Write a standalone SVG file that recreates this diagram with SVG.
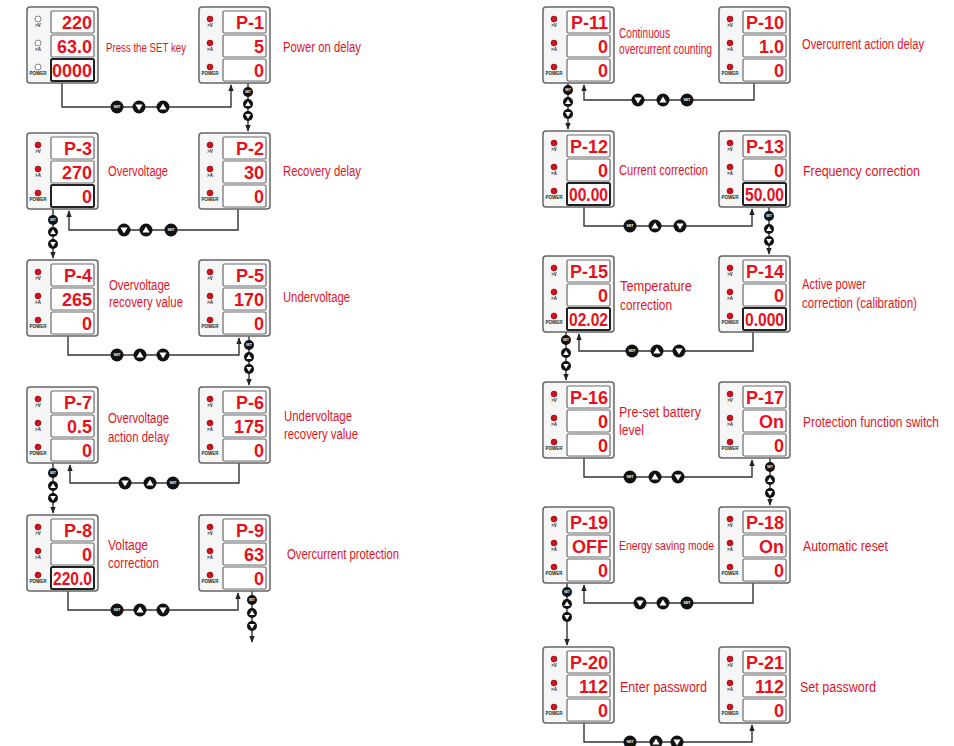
<svg xmlns="http://www.w3.org/2000/svg" xmlns:xlink="http://www.w3.org/1999/xlink" width="954" height="746" viewBox="0 0 954 746">
<style>
.frame{fill:#f6f6f6;stroke:#666;stroke-width:1.5}
.disp{fill:#fff;stroke:#6a6a6a;stroke-width:1.2}
.hi{fill:none;stroke:#222;stroke-width:2}
.led{fill:#d4101c;stroke:#7a0a0a;stroke-width:.6}
.ledoff{fill:#fff;stroke:#777;stroke-width:.9}
.ll{font-family:"Liberation Sans",Arial,sans-serif;font-weight:bold;font-size:4.5px;fill:#222;text-anchor:middle}
.val{font-family:"Liberation Sans",Arial,sans-serif;font-weight:bold;font-size:18px;fill:#e8101c;text-anchor:end}
.lbl{font-family:"Liberation Sans",Arial,sans-serif;font-size:15px;fill:#e3141f}
.sm{font-size:13px}
.wire{fill:none;stroke:#333;stroke-width:1.4}
.bk{fill:#111}
.wt{fill:#fff}
.st{font-family:"Liberation Sans",Arial,sans-serif;font-weight:bold;font-size:3.6px;fill:#fff;text-anchor:middle}
</style>
<defs>
<marker id="ah" viewBox="0 0 10 10" refX="9" refY="5" markerWidth="7" markerHeight="7" orient="auto" markerUnits="userSpaceOnUse"><path d="M0,1 L10,5 L0,9 z" fill="#222"/></marker>
<g id="shell">
<rect class="frame" x="0" y="0" width="71" height="76" rx="3"/>
<rect class="disp" x="24" y="4" width="43" height="22" rx="1.5"/>
<rect class="disp" x="24" y="28" width="43" height="22" rx="1.5"/>
<rect class="disp" x="24" y="52" width="43" height="22" rx="1.5"/>
<circle class="led" cx="11" cy="12" r="3"/>
<circle class="led" cx="11" cy="36" r="3"/>
<circle class="led" cx="11" cy="60" r="3"/>
<text class="ll" x="11" y="20">&gt;V</text>
<text class="ll" x="11" y="44">&gt;A</text>
<text class="ll" x="11" y="68">POWER</text>
</g>
<g id="shell0">
<rect class="frame" x="0" y="0" width="71" height="76" rx="3"/>
<rect class="disp" x="24" y="4" width="43" height="22" rx="1.5"/>
<rect class="disp" x="24" y="28" width="43" height="22" rx="1.5"/>
<rect class="disp" x="24" y="52" width="43" height="22" rx="1.5"/>
<circle class="ledoff" cx="11" cy="12" r="3"/>
<circle class="ledoff" cx="11" cy="36" r="3"/>
<circle class="ledoff" cx="11" cy="60" r="3"/>
<text class="ll" x="11" y="20">&gt;V</text>
<text class="ll" x="11" y="44">&gt;A</text>
<text class="ll" x="11" y="68">POWER</text>
</g>
<g id="bset"><circle class="bk" r="6.5"/><text class="st" y="1.3">SET</text></g>
<g id="bdn"><circle class="bk" r="6.5"/><path class="wt" d="M-3.6,-2.6 L3.6,-2.6 L0,3.6 z"/></g>
<g id="bup"><circle class="bk" r="6.5"/><path class="wt" d="M0,-3.6 L3.6,2.6 L-3.6,2.6 z"/></g>
<g id="vset"><circle class="bk" r="5"/><text class="st" y="1.1" style="font-size:3px">SET</text></g>
<g id="vup"><circle class="bk" r="5"/><path class="wt" d="M0,-2.8 L2.8,2 L-2.8,2 z"/></g>
<g id="vdn"><circle class="bk" r="5"/><path class="wt" d="M-2.8,-2 L2.8,-2 L0,2.8 z"/></g>
</defs>
<rect width="954" height="746" fill="#fff"/>

<g id="connectors">
<path class="wire" d="M62 83 V107 H231 V85" marker-end="url(#ah)"/>
<path class="wire" d="M248 83 V131" marker-end="url(#ah)"/>
<path class="wire" d="M238 209 V230 H69 V211" marker-end="url(#ah)"/>
<path class="wire" d="M53 209 V258" marker-end="url(#ah)"/>
<path class="wire" d="M68 336 V355 H239 V338" marker-end="url(#ah)"/>
<path class="wire" d="M249 336 V385" marker-end="url(#ah)"/>
<path class="wire" d="M239 463 V483 H70 V465" marker-end="url(#ah)"/>
<path class="wire" d="M53 463 V513" marker-end="url(#ah)"/>
<path class="wire" d="M68 591 V610 H238 V593" marker-end="url(#ah)"/>
<path class="wire" d="M252 591 V642" marker-end="url(#ah)"/>
<path class="wire" d="M754 83 V100 H584 V85" marker-end="url(#ah)"/>
<path class="wire" d="M568 83 V129" marker-end="url(#ah)"/>
<path class="wire" d="M584 207 V226 H752 V209" marker-end="url(#ah)"/>
<path class="wire" d="M769 207 V254" marker-end="url(#ah)"/>
<path class="wire" d="M753 332 V351 H579 V334" marker-end="url(#ah)"/>
<path class="wire" d="M566 332 V380" marker-end="url(#ah)"/>
<path class="wire" d="M584 458 V477 H752 V460" marker-end="url(#ah)"/>
<path class="wire" d="M770 458 V505" marker-end="url(#ah)"/>
<path class="wire" d="M753 583 V603 H584 V585" marker-end="url(#ah)"/>
<path class="wire" d="M567 583 V645" marker-end="url(#ah)"/>
<path class="wire" d="M584 723 V742 H752 V725" marker-end="url(#ah)"/>

<use href="#bset" x="117" y="107"/><use href="#bdn" x="139" y="107"/><use href="#bup" x="163" y="107"/>
<use href="#vset" x="248" y="92"/><use href="#vup" x="248" y="104"/><use href="#vdn" x="248" y="116"/>
<use href="#bdn" x="124" y="230"/><use href="#bup" x="146" y="230"/><use href="#bset" x="171" y="230"/>
<use href="#vset" x="53" y="220"/><use href="#vup" x="53" y="232"/><use href="#vdn" x="53" y="244"/>
<use href="#bset" x="117" y="355"/><use href="#bup" x="140" y="355"/><use href="#bdn" x="163" y="355"/>
<use href="#vset" x="249" y="345"/><use href="#vup" x="249" y="357"/><use href="#vdn" x="249" y="369"/>
<use href="#bdn" x="125" y="483"/><use href="#bup" x="150" y="483"/><use href="#bset" x="173" y="483"/>
<use href="#vset" x="53" y="473"/><use href="#vup" x="53" y="486"/><use href="#vdn" x="53" y="498"/>
<use href="#bset" x="117" y="610"/><use href="#bup" x="140" y="610"/><use href="#bdn" x="163" y="610"/>
<use href="#vset" x="252" y="600"/><use href="#vup" x="252" y="613"/><use href="#vdn" x="252" y="626"/>
<use href="#bdn" x="638" y="100"/><use href="#bup" x="663" y="100"/><use href="#bset" x="687" y="100"/>
<use href="#vset" x="568" y="90"/><use href="#vup" x="568" y="102"/><use href="#vdn" x="568" y="114"/>
<use href="#bset" x="630" y="226"/><use href="#bup" x="655" y="226"/><use href="#bdn" x="680" y="226"/>
<use href="#vset" x="769" y="216"/><use href="#vup" x="769" y="229"/><use href="#vdn" x="769" y="241"/>
<use href="#bset" x="632" y="351"/><use href="#bup" x="657" y="351"/><use href="#bdn" x="679" y="351"/>
<use href="#vset" x="566" y="340"/><use href="#vup" x="566" y="353"/><use href="#vdn" x="566" y="366"/>
<use href="#bset" x="630" y="477"/><use href="#bup" x="655" y="477"/><use href="#bdn" x="678" y="477"/>
<use href="#vset" x="770" y="467"/><use href="#vup" x="770" y="480"/><use href="#vdn" x="770" y="493"/>
<use href="#bdn" x="640" y="603"/><use href="#bup" x="663" y="603"/><use href="#bset" x="687" y="603"/>
<use href="#vset" x="567" y="592"/><use href="#vup" x="567" y="604"/><use href="#vdn" x="567" y="617"/>
<use href="#bset" x="630" y="742"/><use href="#bup" x="656" y="742"/><use href="#bdn" x="677" y="742"/>
</g>

<g id="n-home" transform="translate(27,7)"><use href="#shell0"/><rect class="hi" x="24" y="52" width="43" height="22" rx="1.5"/>
<text class="val" x="65" y="22">220</text><text class="val" x="65" y="46">63.0</text><text class="val" x="65" y="70">0000</text></g>
<g id="n-p1" transform="translate(199,7)"><use href="#shell"/>
<text class="val" x="65" y="22">P-1</text><text class="val" x="65" y="46">5</text><text class="val" x="65" y="70">0</text></g>
<g id="n-p3" transform="translate(27,133)"><use href="#shell"/><rect class="hi" x="24" y="52" width="43" height="22" rx="1.5"/>
<text class="val" x="65" y="22">P-3</text><text class="val" x="65" y="46">270</text><text class="val" x="65" y="70">0</text></g>
<g id="n-p2" transform="translate(199,133)"><use href="#shell"/>
<text class="val" x="65" y="22">P-2</text><text class="val" x="65" y="46">30</text><text class="val" x="65" y="70">0</text></g>
<g id="n-p4" transform="translate(27,260)"><use href="#shell"/>
<text class="val" x="65" y="22">P-4</text><text class="val" x="65" y="46">265</text><text class="val" x="65" y="70">0</text></g>
<g id="n-p5" transform="translate(199,260)"><use href="#shell"/>
<text class="val" x="65" y="22">P-5</text><text class="val" x="65" y="46">170</text><text class="val" x="65" y="70">0</text></g>
<g id="n-p7" transform="translate(27,387)"><use href="#shell"/>
<text class="val" x="65" y="22">P-7</text><text class="val" x="65" y="46">0.5</text><text class="val" x="65" y="70">0</text></g>
<g id="n-p6" transform="translate(199,387)"><use href="#shell"/>
<text class="val" x="65" y="22">P-6</text><text class="val" x="65" y="46">175</text><text class="val" x="65" y="70">0</text></g>
<g id="n-p8" transform="translate(27,515)"><use href="#shell"/><rect class="hi" x="24" y="52" width="43" height="22" rx="1.5"/>
<text class="val" x="65" y="22">P-8</text><text class="val" x="65" y="46">0</text><text class="val" x="65" y="70" textLength="39" lengthAdjust="spacingAndGlyphs">220.0</text></g>
<g id="n-p9" transform="translate(199,515)"><use href="#shell"/>
<text class="val" x="65" y="22">P-9</text><text class="val" x="65" y="46">63</text><text class="val" x="65" y="70">0</text></g>

<g id="n-p11" transform="translate(543,7)"><use href="#shell"/>
<text class="val" x="65" y="22">P-11</text><text class="val" x="65" y="46">0</text><text class="val" x="65" y="70">0</text></g>
<g id="n-p10" transform="translate(719,7)"><use href="#shell"/>
<text class="val" x="65" y="22">P-10</text><text class="val" x="65" y="46">1.0</text><text class="val" x="65" y="70">0</text></g>
<g id="n-p12" transform="translate(543,131)"><use href="#shell"/><rect class="hi" x="24" y="52" width="43" height="22" rx="1.5"/>
<text class="val" x="65" y="22">P-12</text><text class="val" x="65" y="46">0</text><text class="val" x="65" y="70" textLength="39" lengthAdjust="spacingAndGlyphs">00.00</text></g>
<g id="n-p13" transform="translate(719,131)"><use href="#shell"/><rect class="hi" x="24" y="52" width="43" height="22" rx="1.5"/>
<text class="val" x="65" y="22">P-13</text><text class="val" x="65" y="46">0</text><text class="val" x="65" y="70" textLength="39" lengthAdjust="spacingAndGlyphs">50.00</text></g>
<g id="n-p15" transform="translate(543,256)"><use href="#shell"/><rect class="hi" x="24" y="52" width="43" height="22" rx="1.5"/>
<text class="val" x="65" y="22">P-15</text><text class="val" x="65" y="46">0</text><text class="val" x="65" y="70" textLength="39" lengthAdjust="spacingAndGlyphs">02.02</text></g>
<g id="n-p14" transform="translate(719,256)"><use href="#shell"/><rect class="hi" x="24" y="52" width="43" height="22" rx="1.5"/>
<text class="val" x="65" y="22">P-14</text><text class="val" x="65" y="46">0</text><text class="val" x="65" y="70" textLength="39" lengthAdjust="spacingAndGlyphs">0.000</text></g>
<g id="n-p16" transform="translate(543,382)"><use href="#shell"/>
<text class="val" x="65" y="22">P-16</text><text class="val" x="65" y="46">0</text><text class="val" x="65" y="70">0</text></g>
<g id="n-p17" transform="translate(719,382)"><use href="#shell"/>
<text class="val" x="65" y="22">P-17</text><text class="val" x="65" y="46">On</text><text class="val" x="65" y="70">0</text></g>
<g id="n-p19" transform="translate(543,507)"><use href="#shell"/>
<text class="val" x="65" y="22">P-19</text><text class="val" x="65" y="46">OFF</text><text class="val" x="65" y="70">0</text></g>
<g id="n-p18" transform="translate(719,507)"><use href="#shell"/>
<text class="val" x="65" y="22">P-18</text><text class="val" x="65" y="46">On</text><text class="val" x="65" y="70">0</text></g>
<g id="n-p20" transform="translate(543,647)"><use href="#shell"/>
<text class="val" x="65" y="22">P-20</text><text class="val" x="65" y="46">112</text><text class="val" x="65" y="70">0</text></g>
<g id="n-p21" transform="translate(719,647)"><use href="#shell"/>
<text class="val" x="65" y="22">P-21</text><text class="val" x="65" y="46">112</text><text class="val" x="65" y="70">0</text></g>

<g id="labels" transform="scale(0.82,1)">
<text class="lbl sm" x="129.27" y="52" textLength="97.56" lengthAdjust="spacingAndGlyphs">Press the SET key</text>
<text class="lbl" x="345.12" y="52" textLength="95.12" lengthAdjust="spacingAndGlyphs">Power on delay</text>
<text class="lbl" x="131.71" y="176" textLength="73.17" lengthAdjust="spacingAndGlyphs">Overvoltage</text>
<text class="lbl" x="345.12" y="176" textLength="95.12" lengthAdjust="spacingAndGlyphs">Recovery delay</text>
<text class="lbl" x="132.93" y="290" textLength="74.39" lengthAdjust="spacingAndGlyphs">Overvoltage</text>
<text class="lbl" x="132.93" y="307" textLength="90.24" lengthAdjust="spacingAndGlyphs">recovery value</text>
<text class="lbl" x="345.12" y="302" textLength="81.71" lengthAdjust="spacingAndGlyphs">Undervoltage</text>
<text class="lbl" x="131.71" y="423" textLength="74.39" lengthAdjust="spacingAndGlyphs">Overvoltage</text>
<text class="lbl" x="131.71" y="442" textLength="74.39" lengthAdjust="spacingAndGlyphs">action delay</text>
<text class="lbl" x="346.34" y="421" textLength="82.93" lengthAdjust="spacingAndGlyphs">Undervoltage</text>
<text class="lbl" x="346.34" y="439" textLength="90.24" lengthAdjust="spacingAndGlyphs">recovery value</text>
<text class="lbl" x="131.71" y="550" textLength="48.78" lengthAdjust="spacingAndGlyphs">Voltage</text>
<text class="lbl" x="131.71" y="568" textLength="62.20" lengthAdjust="spacingAndGlyphs">correction</text>
<text class="lbl" x="350" y="559" textLength="136.59" lengthAdjust="spacingAndGlyphs">Overcurrent protection</text>
<text class="lbl" x="754.88" y="38" textLength="62.20" lengthAdjust="spacingAndGlyphs">Continuous</text>
<text class="lbl" x="754.88" y="54" textLength="113.41" lengthAdjust="spacingAndGlyphs">overcurrent counting</text>
<text class="lbl" x="978.05" y="49" textLength="148.78" lengthAdjust="spacingAndGlyphs">Overcurrent action delay</text>
<text class="lbl" x="754.88" y="175" textLength="108.54" lengthAdjust="spacingAndGlyphs">Current correction</text>
<text class="lbl" x="979.27" y="176" textLength="142.68" lengthAdjust="spacingAndGlyphs">Frequency correction</text>
<text class="lbl" x="756.10" y="291" textLength="87.80" lengthAdjust="spacingAndGlyphs">Temperature</text>
<text class="lbl" x="756.10" y="310" textLength="63.41" lengthAdjust="spacingAndGlyphs">correction</text>
<text class="lbl" x="978.05" y="289" textLength="78.05" lengthAdjust="spacingAndGlyphs">Active power</text>
<text class="lbl" x="978.05" y="308" textLength="140.24" lengthAdjust="spacingAndGlyphs">correction (calibration)</text>
<text class="lbl" x="754.88" y="417" textLength="100" lengthAdjust="spacingAndGlyphs">Pre-set battery</text>
<text class="lbl" x="754.88" y="435" textLength="30.49" lengthAdjust="spacingAndGlyphs">level</text>
<text class="lbl" x="979.27" y="427" textLength="165.85" lengthAdjust="spacingAndGlyphs">Protection function switch</text>
<text class="lbl sm" x="754.88" y="550" textLength="115.85" lengthAdjust="spacingAndGlyphs">Energy saving mode</text>
<text class="lbl" x="979.27" y="551" textLength="103.66" lengthAdjust="spacingAndGlyphs">Automatic reset</text>
<text class="lbl" x="756.10" y="692" textLength="106.10" lengthAdjust="spacingAndGlyphs">Enter password</text>
<text class="lbl" x="975.61" y="692" textLength="92.68" lengthAdjust="spacingAndGlyphs">Set password</text>
</g>
</svg>
